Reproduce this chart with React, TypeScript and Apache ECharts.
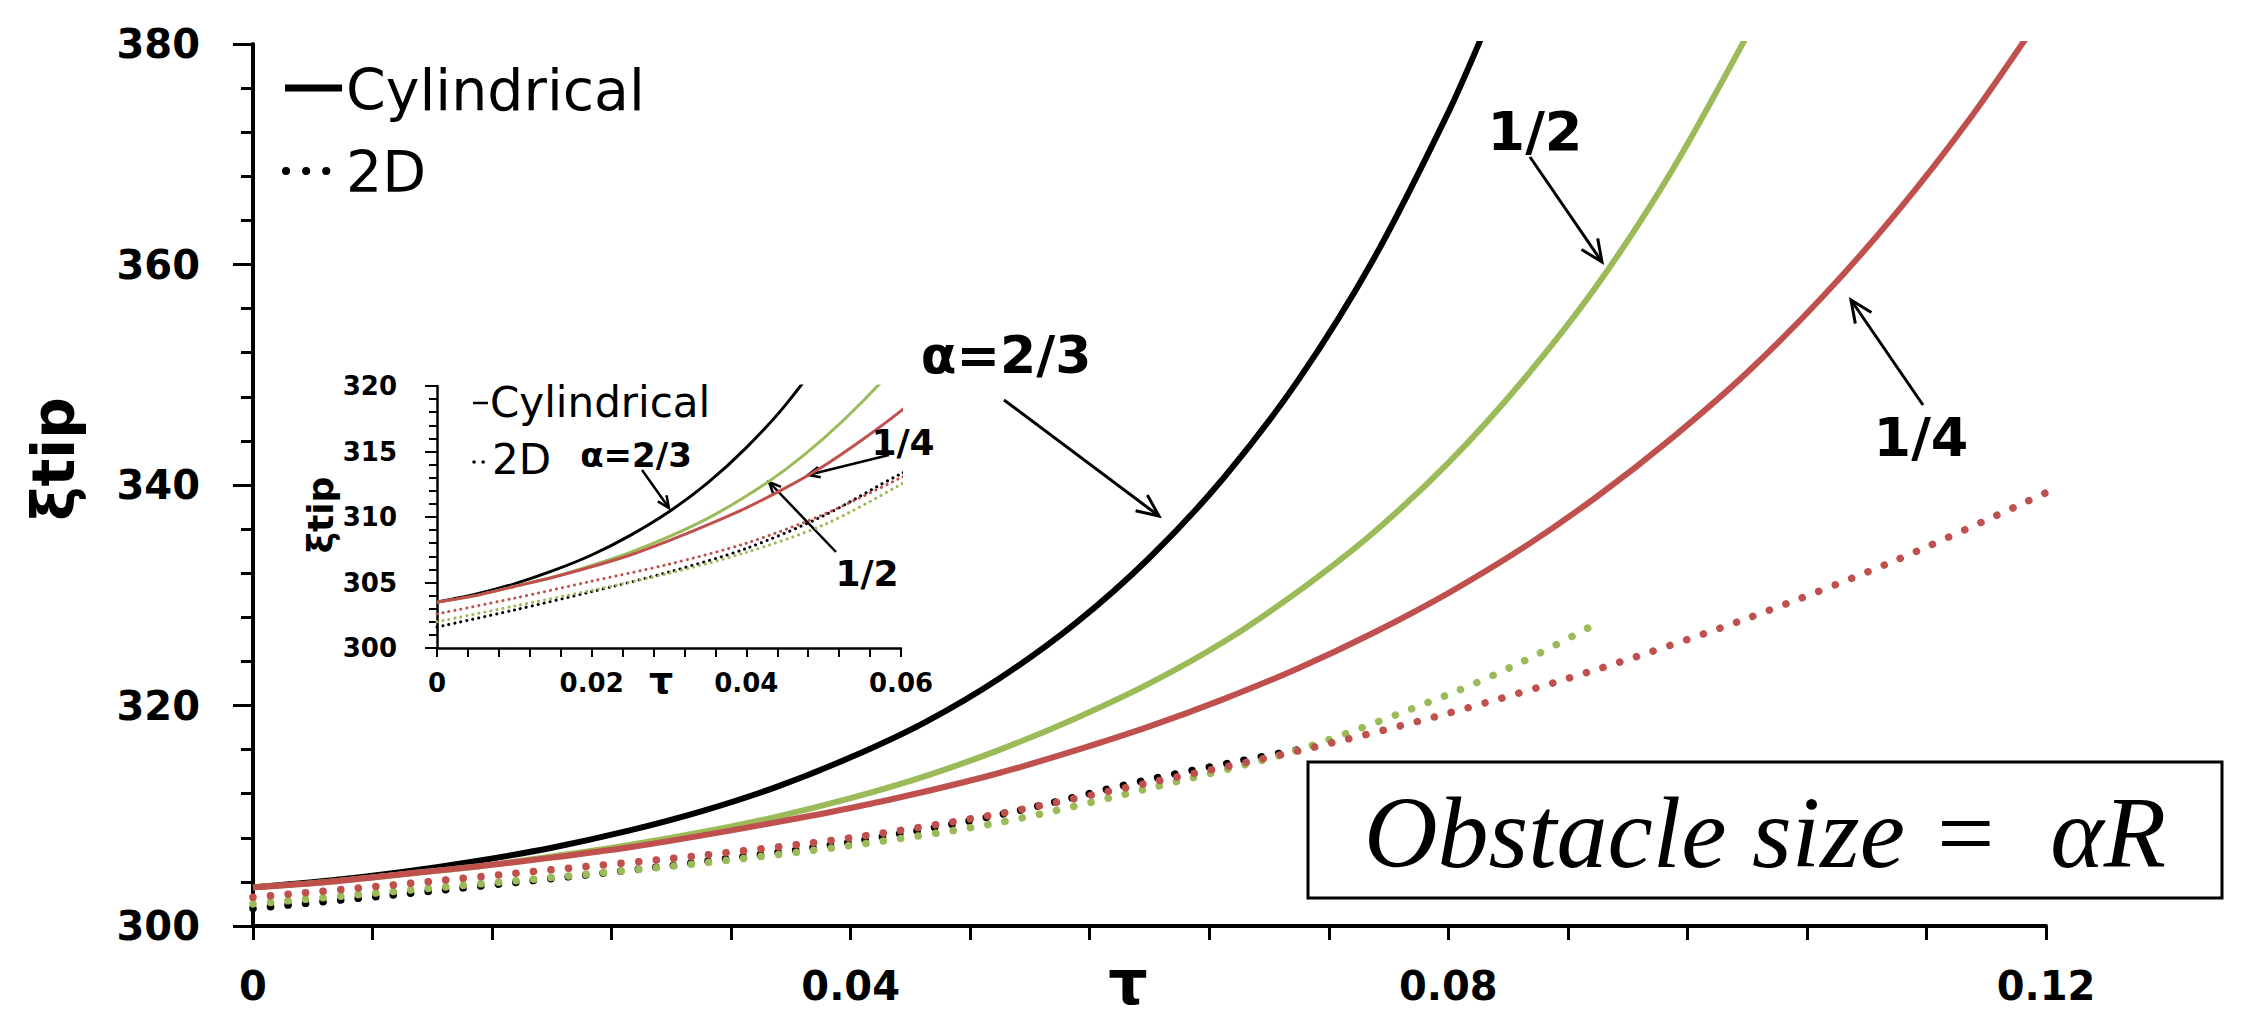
import React, { useEffect, useRef } from "react";
import * as echarts from "echarts";

// ---- data ----
const xTicksMain = [0, 0.04, 0.08, 0.12];
const yTicksMain = [300, 320, 340, 360, 380];
const xTicksInset = [0, 0.02, 0.04, 0.06];
const yTicksInset = [300, 305, 310, 315, 320];

// Cylindrical (solid)
const tauCyl23 = [0, 0.005, 0.01, 0.015, 0.02, 0.025, 0.03, 0.035, 0.04, 0.045, 0.05, 0.055, 0.06, 0.065, 0.07, 0.075, 0.08, 0.0825];
const cyl23 = [303.5, 304.1, 304.9, 305.9, 307.1, 308.6, 310.4, 312.6, 315.3, 318.5, 322.5, 327.4, 333.4, 340.7, 349.6, 360.5, 373.8, 381.5];
const tauCyl12 = [0, 0.005, 0.01, 0.015, 0.02, 0.025, 0.03, 0.035, 0.04, 0.045, 0.05, 0.055, 0.06, 0.065, 0.07, 0.075, 0.08, 0.085, 0.09, 0.095, 0.1];
const cyl12 = [303.5, 304.0, 304.7, 305.4, 306.3, 307.3, 308.5, 309.9, 311.6, 313.6, 316.0, 318.8, 322.0, 325.8, 330.4, 335.7, 342.0, 349.5, 358.2, 368.6, 380.8];
const tauCyl14 = [0, 0.005, 0.01, 0.015, 0.02, 0.025, 0.03, 0.035, 0.04, 0.045, 0.05, 0.055, 0.06, 0.065, 0.07, 0.075, 0.08, 0.085, 0.09, 0.095, 0.1, 0.105, 0.11, 0.115, 0.12];
const cyl14 = [303.5, 304.0, 304.7, 305.4, 306.2, 307.1, 308.2, 309.4, 310.7, 312.2, 313.9, 315.9, 318.1, 320.6, 323.4, 326.6, 330.2, 334.3, 339.0, 344.3, 350.2, 357.0, 364.7, 373.4, 383.2];

// 2D (dotted)
const tau2D23 = [0, 0.01, 0.02, 0.03, 0.04, 0.05, 0.06, 0.07];
const d2D23 = [301.6, 302.9, 304.3, 305.8, 307.6, 310.1, 313.3, 316.0];
const tau2D12 = [0, 0.01, 0.02, 0.03, 0.04, 0.05, 0.06, 0.07, 0.08, 0.085, 0.09];
const d2D12 = [302.0, 303.2, 304.4, 305.7, 307.3, 309.4, 312.5, 316.0, 321.0, 324.0, 327.5];
const tau2D14 = [0, 0.01, 0.02, 0.03, 0.04, 0.05, 0.06, 0.07, 0.08, 0.09, 0.1, 0.11, 0.12];
const d2D14 = [302.6, 303.8, 305.1, 306.4, 308.0, 310.2, 313.0, 315.9, 319.3, 323.3, 327.9, 333.2, 339.3];

const BLACK = "#000000";
const GREEN = "#9BBB59";
const RED = "#C0504D";
const FONT = "DejaVu Sans";

const pairs = (xs: number[], ys: number[]) => xs.map((x, i) => [x, ys[i]]);
const fmt = (v: number) => String(+v.toFixed(2));

function arrow(x1: number, y1: number, x2: number, y2: number, w: number, head: number) {
  const a = Math.atan2(y2 - y1, x2 - x1);
  const s = 0.42;
  return [
    { type: "line", shape: { x1, y1, x2, y2 }, style: { stroke: "#000", lineWidth: w } },
    {
      type: "polyline",
      shape: {
        points: [
          [x2 - head * Math.cos(a - s), y2 - head * Math.sin(a - s)],
          [x2, y2],
          [x2 - head * Math.cos(a + s), y2 - head * Math.sin(a + s)],
        ],
      },
      style: { stroke: "#000", lineWidth: w, fill: null },
    },
  ];
}

function txt(text: string, x: number, y: number, size: number, opts: any = {}) {
  return {
    type: "text",
    x,
    y,
    rotation: opts.rotation || 0,
    z: 10,
    style: {
      text,
      fontFamily: opts.family || FONT,
      fontSize: size,
      fontWeight: opts.weight || "bold",
      fontStyle: opts.style || "normal",
      fill: "#000",
      align: opts.align || "center",
      verticalAlign: "middle",
      textAlign: opts.align || "center",
      textVerticalAlign: "middle",
    },
  };
}

export default function App() {
  const ref = useRef<HTMLDivElement>(null);
  useEffect(() => {
    document.body.style.margin = "0";
    const chart = echarts.init(ref.current!, null, { renderer: "svg" });

    const mk = (name: string, xs: number[], ys: number[], color: string, dotted: boolean, inset: boolean) => ({
      type: "line",
      name,
      xAxisIndex: inset ? 1 : 0,
      yAxisIndex: inset ? 1 : 0,
      data: pairs(xs, ys),
      smooth: 0.3,
      showSymbol: false,
      clip: true,
      z: dotted ? 2 : 3,
      lineStyle: dotted
        ? { color, width: inset ? 3 : 7.5, type: inset ? [0.1, 6] : [0.1, 17.5], cap: "round" }
        : { color, width: inset ? 3 : 6 },
    });

    const series: any[] = [];
    [false, true].forEach((inset) => {
      series.push(mk("2D α=2/3", tau2D23, d2D23, BLACK, true, inset));
      series.push(mk("2D α=1/2", tau2D12, d2D12, GREEN, true, inset));
      series.push(mk("2D α=1/4", tau2D14, d2D14, RED, true, inset));
      series.push(mk("Cylindrical α=2/3", tauCyl23, cyl23, BLACK, false, inset));
      series.push(mk("Cylindrical α=1/2", tauCyl12, cyl12, GREEN, false, inset));
      series.push(mk("Cylindrical α=1/4", tauCyl14, cyl14, RED, false, inset));
    });

    const axisCommon = (w: number) => ({
      type: "value",
      splitLine: { show: false },
      axisLine: { show: true, onZero: false, lineStyle: { color: "#000", width: w } },
    });

    const graphic: any[] = [
      // main legend
      { type: "line", shape: { x1: 285, y1: 88, x2: 342, y2: 88 }, style: { stroke: "#000", lineWidth: 7 } },
      txt("Cylindrical", 346, 90, 57, { weight: "normal", align: "left" }),
      { type: "line", shape: { x1: 286, y1: 171, x2: 330, y2: 171 }, style: { stroke: "#000", lineWidth: 8, lineDash: [0.1, 20], lineCap: "round" } },
      txt("2D", 346, 172, 57, { weight: "normal", align: "left" }),
      // axis names
      txt("ξtip", 54, 459, 58, { rotation: Math.PI / 2 }),
      txt("τ", 1128, 982, 62),
      // annotations main
      txt("α=2/3", 1006, 355, 52),
      txt("1/2", 1535, 131, 54),
      txt("1/4", 1921, 437, 54),
      ...arrow(1004, 400, 1159, 516, 3, 24),
      ...arrow(1530, 157, 1602, 262, 3, 24),
      ...arrow(1923, 405, 1851, 300, 3, 24),
      // inset legend
      { type: "line", shape: { x1: 473, y1: 403, x2: 488, y2: 403 }, style: { stroke: "#000", lineWidth: 2.5 } },
      txt("Cylindrical", 490, 402, 42, { weight: "normal", align: "left" }),
      { type: "line", shape: { x1: 474, y1: 462, x2: 484, y2: 462 }, style: { stroke: "#000", lineWidth: 3.5, lineDash: [0.1, 9], lineCap: "round" } },
      txt("2D", 492, 459, 42, { weight: "normal", align: "left" }),
      txt("ξtip", 320, 515, 36, { rotation: Math.PI / 2 }),
      txt("τ", 661, 680, 38),
      // inset annotations
      txt("α=2/3", 636, 455, 34),
      txt("1/4", 903, 442, 36),
      txt("1/2", 867, 573, 36),
      ...arrow(642, 470, 669, 508, 2.5, 13),
      ...arrow(889, 455, 808, 475, 2.5, 13),
      ...arrow(836, 552, 769, 482, 2.5, 13),
      // formula box
      { type: "rect", z: 5, shape: { x: 1308, y: 762, width: 914, height: 136 }, style: { fill: "#fff", stroke: "#000", lineWidth: 3 } },
      txt("Obstacle size =  αR", 1765, 832, 102, { weight: "normal", style: "italic", family: "Liberation Serif" }),
    ];

    chart.setOption({
      animation: false,
      backgroundColor: "#fff",
      grid: [
        { left: 253, top: 44, width: 1793, height: 882 },
        { left: 437, top: 386, width: 464, height: 262 },
      ],
      xAxis: [
        {
          ...axisCommon(4),
          gridIndex: 0,
          min: xTicksMain[0],
          max: xTicksMain[xTicksMain.length - 1],
          interval: xTicksMain[1] - xTicksMain[0],
          axisTick: { show: true, length: 14, lineStyle: { color: "#000", width: 3 } },
          minorTick: { show: true, splitNumber: 5, length: 14, lineStyle: { color: "#000", width: 3 } },
          axisLabel: { formatter: fmt, color: "#000", fontFamily: FONT, fontWeight: "bold", fontSize: 40, margin: 40 },
        },
        {
          ...axisCommon(2.5),
          gridIndex: 1,
          min: xTicksInset[0],
          max: xTicksInset[xTicksInset.length - 1],
          interval: xTicksInset[1] - xTicksInset[0],
          axisTick: { show: true, length: 9, lineStyle: { color: "#000", width: 2 } },
          minorTick: { show: true, splitNumber: 5, length: 9, lineStyle: { color: "#000", width: 2 } },
          axisLabel: { formatter: fmt, color: "#000", fontFamily: FONT, fontWeight: "bold", fontSize: 26, margin: 22 },
        },
      ],
      yAxis: [
        {
          ...axisCommon(4),
          gridIndex: 0,
          min: yTicksMain[0],
          max: yTicksMain[yTicksMain.length - 1],
          interval: yTicksMain[1] - yTicksMain[0],
          axisTick: { show: true, length: 20, lineStyle: { color: "#000", width: 3 } },
          minorTick: { show: true, splitNumber: 5, length: 12, lineStyle: { color: "#000", width: 3 } },
          axisLabel: { color: "#000", fontFamily: FONT, fontWeight: "bold", fontSize: 40, margin: 53 },
        },
        {
          ...axisCommon(2.5),
          gridIndex: 1,
          min: yTicksInset[0],
          max: yTicksInset[yTicksInset.length - 1],
          interval: yTicksInset[1] - yTicksInset[0],
          axisTick: { show: true, length: 12, lineStyle: { color: "#000", width: 2 } },
          minorTick: { show: true, splitNumber: 5, length: 8, lineStyle: { color: "#000", width: 2 } },
          axisLabel: { color: "#000", fontFamily: FONT, fontWeight: "bold", fontSize: 26, margin: 40 },
        },
      ],
      series,
      graphic,
    });
    return () => chart.dispose();
  }, []);
  return <div ref={ref} style={{ width: 2249, height: 1018 }} />;
}
